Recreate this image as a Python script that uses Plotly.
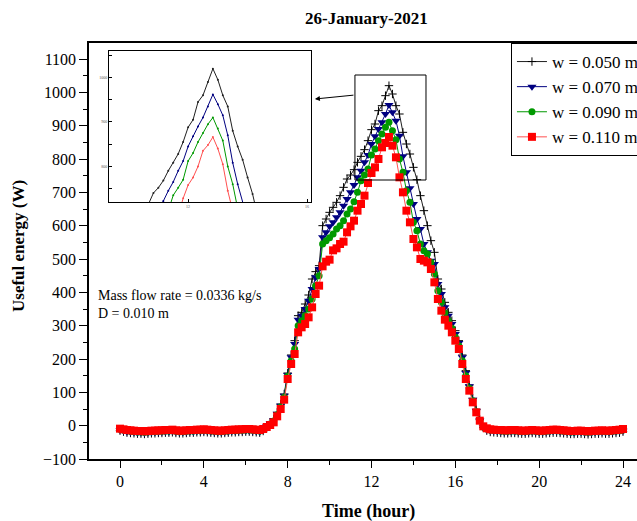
import plotly.graph_objects as go

# time axis: 10-minute readings over the day
hours = [round(i / 6, 4) for i in range(145)]

labels = ["w = 0.050 m", "w = 0.070 m", "w = 0.090 m", "w = 0.110 m"]

w050 = [-15, -18, -21, -22, -23, -24, -24, -25, -24, -23, -23, -22,
        -22, -21, -21, -20, -22, -23, -23, -22, -21, -21, -20, -20,
        -19, -20, -21, -22, -23, -23, -22, -21, -20, -20, -19, -19,
        -18, -18, -19, -20, -21, -16,
        0, 9, 20, 40, 65, 95, 158, 212, 255, 330, 340, 365,
        392, 440, 462, 480, 600, 620, 640, 655, 670, 690, 715, 740,
        752, 768, 790, 808, 828, 855, 888, 905, 945, 960, 990, 1020,
        995, 960, 935, 880, 845, 815, 775, 738, 690, 645, 600, 555,
        520, 440, 410, 370, 340, 315, 285, 255, 212, 165, 122, 82,
        48, 18, -6, -15, -19, -20,
        -21, -22, -23, -23, -22, -22, -23, -24, -24, -23, -22, -23,
        -24, -24, -23, -22, -21, -21, -22, -23, -24, -25, -25, -24,
        -24, -25, -26, -25, -24, -24, -23, -24, -24, -23, -22, -21, -18]

w070 = [-13, -15, -18, -19, -20, -21, -21, -22, -21, -20, -20, -19,
        -19, -18, -18, -17, -19, -20, -20, -19, -18, -18, -17, -17,
        -16, -17, -18, -19, -20, -20, -19, -18, -17, -17, -16, -16,
        -15, -15, -16, -17, -18, -14,
        -2, 7, 17, 36, 60, 90, 152, 205, 245, 318, 330, 350,
        375, 410, 445, 470, 565, 580, 598, 610, 625, 640, 660, 680,
        700, 722, 745, 765, 790, 812, 845, 868, 890, 910, 935, 962,
        940, 915, 870, 808, 760, 712, 665, 620, 590, 545, 520, 495,
        485, 425, 395, 355, 330, 305, 275, 248, 205, 158, 118, 78,
        45, 16, -5, -12, -15, -16,
        -17, -18, -19, -19, -18, -18, -19, -20, -20, -19, -18, -19,
        -20, -20, -19, -18, -17, -17, -18, -19, -20, -21, -21, -20,
        -20, -21, -22, -21, -20, -20, -19, -20, -20, -19, -18, -17, -15]

w090 = [-11, -13, -15, -17, -18, -19, -19, -20, -19, -18, -18, -17,
        -17, -16, -16, -15, -17, -18, -18, -17, -16, -16, -15, -15,
        -14, -15, -16, -17, -18, -18, -17, -16, -15, -15, -14, -14,
        -13, -13, -14, -15, -16, -12,
        -3, 5, 14, 33, 56, 85, 148, 195, 230, 300, 315, 330,
        350, 380, 420, 450, 545, 555, 564, 575, 590, 600, 615, 635,
        650, 672, 700, 735, 752, 770, 812, 830, 855, 875, 895, 910,
        885, 858, 800, 760, 705, 670, 610, 585, 545, 525, 515, 490,
        455, 405, 370, 338, 315, 292, 265, 240, 195, 150, 112, 75,
        42, 15, -4, -10, -13, -14,
        -15, -16, -17, -17, -16, -16, -17, -18, -18, -17, -16, -17,
        -18, -18, -17, -16, -15, -15, -16, -17, -18, -19, -19, -18,
        -18, -19, -20, -19, -18, -18, -17, -18, -18, -17, -16, -15, -13]

w110 = [-9, -11, -13, -14, -15, -16, -16, -17, -16, -15, -15, -14,
        -14, -13, -13, -12, -14, -15, -15, -14, -13, -13, -12, -12,
        -11, -12, -13, -14, -15, -15, -14, -13, -12, -12, -11, -11,
        -10, -10, -11, -12, -13, -10,
        -4, 2, 10, 28, 50, 78, 140, 185, 215, 280, 295, 305,
        325, 355, 395, 420, 478, 492, 498, 526, 532, 545, 552, 580,
        598, 615, 645, 665, 690, 728, 758, 775, 800, 835, 848, 866,
        840, 805, 745, 700, 645, 610, 560, 535, 500, 495, 490, 470,
        430, 380, 345, 318, 300, 280, 255, 230, 185, 140, 105, 70,
        40, 15, -2, -8, -11, -12,
        -13, -13, -14, -14, -13, -13, -14, -15, -15, -14, -13, -14,
        -15, -15, -14, -13, -12, -12, -13, -14, -15, -16, -16, -15,
        -15, -16, -17, -16, -15, -15, -14, -15, -15, -14, -13, -12, -10]

series = [w050, w070, w090, w110]
line_colors = ["#202020", "#000080", "#009900", "#ff5050"]
marker_colors = ["#000000", "#000080", "#009900", "#ff0000"]
symbols = ["cross-thin", "triangle-down", "circle", "square"]
sizes = [6, 8, 7, 8]

SERIF = "Liberation Serif, Times New Roman, serif"

fig = go.Figure()
for lab, ys, lc, mc, sy, sz in zip(labels, series, line_colors, marker_colors, symbols, sizes):
    mk = dict(symbol=sy, size=sz, color=mc)
    if sy == "cross-thin":
        mk["line"] = dict(width=1, color=mc)
    fig.add_trace(go.Scatter(x=hours, y=ys, name=lab, mode="lines+markers",
                             line=dict(color=lc, width=1), marker=mk))

# inset (zoom of the peak)
for ys, lc in zip(series, line_colors):
    fig.add_trace(go.Scatter(x=hours, y=ys, mode="lines+markers", showlegend=False,
                             line=dict(color=lc, width=1),
                             marker=dict(size=2, color=lc),
                             xaxis="x2", yaxis="y2"))

fig.update_layout(
    width=637, height=521,
    margin=dict(l=89, r=0, t=43, b=62, autoexpand=False),
    paper_bgcolor="white", plot_bgcolor="white",
    font=dict(family=SERIF, size=16, color="black"),
    showlegend=True,
    legend=dict(x=0.770, y=1.0, xanchor="left", yanchor="top",
                bordercolor="black", borderwidth=1, bgcolor="white",
                font=dict(family=SERIF, size=17, color="black"),
                tracegroupgap=0, itemwidth=30),
    xaxis=dict(range=[-1.479, 24.668], tickvals=[0, 4, 8, 12, 16, 20, 24],
               ticks="outside", ticklen=7, tickwidth=1, tickcolor="black",
               minor=dict(dtick=2, tick0=0, ticks="outside", ticklen=4, tickcolor="black"),
               showline=True, linecolor="black", linewidth=1.5, mirror=True,
               showgrid=False, zeroline=False,
               tickfont=dict(family=SERIF, size=16)),
    yaxis=dict(range=[-100, 1148], tickvals=list(range(-100, 1101, 100)),
               ticks="outside", ticklen=8, tickwidth=1, tickcolor="black",
               minor=dict(dtick=50, tick0=0, ticks="outside", ticklen=4, tickcolor="black"),
               showline=True, linecolor="black", linewidth=1.5,
               showgrid=False, zeroline=False,
               tickfont=dict(family=SERIF, size=16)),
    xaxis2=dict(domain=[0.0365, 0.405], anchor="y2", range=[9.34, 16.13],
                tickvals=[12, 16], ticktext=["12", "16"],
                ticks="inside", ticklen=3, tickcolor="black",
                showline=True, linecolor="black", linewidth=1, mirror=True,
                showgrid=False, zeroline=False,
                tickfont=dict(family=SERIF, size=4, color="#555")),
    yaxis2=dict(domain=[0.618, 0.981], anchor="x2", range=[720, 1060],
                tickvals=[750, 800, 850, 900, 950, 1000, 1050],
                ticktext=["", "800", "", "900", "", "1000", ""],
                ticks="inside", ticklen=3, tickcolor="black",
                showline=True, linecolor="black", linewidth=1, mirror=True,
                showgrid=False, zeroline=False,
                tickfont=dict(family=SERIF, size=4, color="#555")),
)

# rectangle marking the zoomed region
fig.add_shape(type="rect", xref="x", yref="y", x0=11.21, x1=14.6, y0=737, y1=1052,
              line=dict(color="black", width=1), fillcolor="rgba(0,0,0,0)")

fig.add_annotation(x=9.30, y=980, ax=11.21, ay=992, xref="x", yref="y",
                   axref="x", ayref="y", text="", showarrow=True,
                   arrowhead=2, arrowsize=1, arrowwidth=1, arrowcolor="black")

fig.add_annotation(x=(366 - 89) / 548, y=(459 - 19) / 416, xref="paper", yref="paper",
                   xanchor="center", yanchor="middle",
                   text="<b>26-January-2021</b>", showarrow=False,
                   font=dict(family=SERIF, size=17, color="black"))
fig.add_annotation(x=(368 - 89) / 548, y=(459 - 511) / 416, xref="paper", yref="paper",
                   xanchor="center", yanchor="middle",
                   text="<b>Time (hour)</b>", showarrow=False,
                   font=dict(family=SERIF, size=18, color="black"))
fig.add_annotation(x=(18 - 89) / 548, y=(459 - 246) / 416, xref="paper", yref="paper",
                   xanchor="center", yanchor="middle",
                   text="<b>Useful energy (W)</b>", showarrow=False, textangle=-90,
                   font=dict(family=SERIF, size=17, color="black"))
fig.add_annotation(x=(96 - 89) / 548, y=(459 - 304) / 416, xref="paper", yref="paper",
                   xanchor="left", yanchor="middle", align="left", showarrow=False,
                   text="Mass flow rate = 0.0336 kg/s<br>D = 0.010 m",
                   font=dict(family=SERIF, size=14, color="black"))

fig.write_html("out.html")
